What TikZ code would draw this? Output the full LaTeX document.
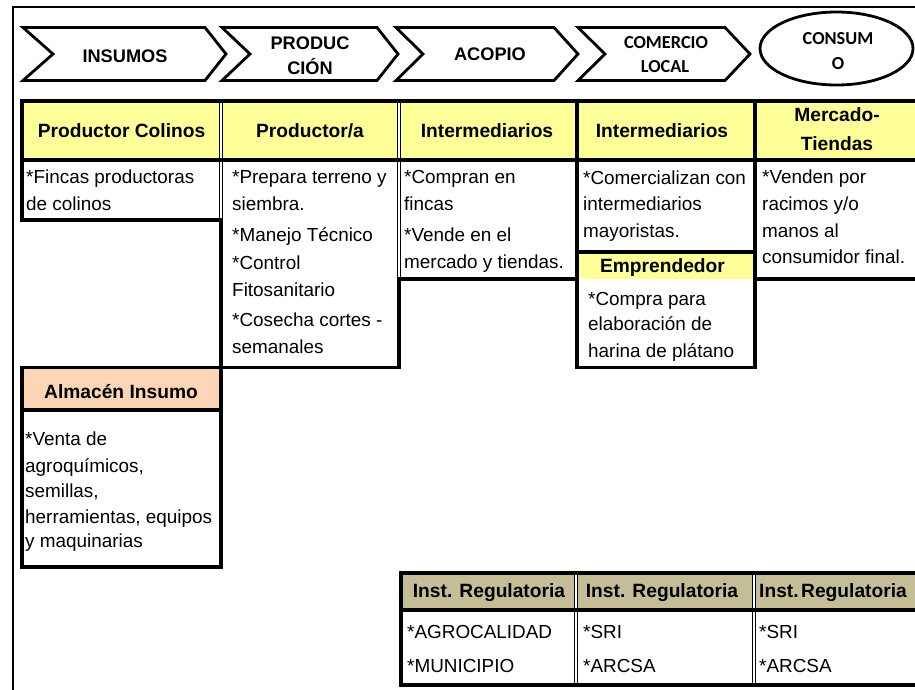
\documentclass[tikz,border=0pt]{standalone}
\usepackage{fontspec}
\setmainfont{Liberation Sans}
\newfontfamily\calfont{Carlito}
\definecolor{hy}{HTML}{FFFF99}
\definecolor{hp}{HTML}{FBD5B5}
\definecolor{ht}{HTML}{C4BD97}
\tikzset{
  bord/.style={line width=3.3pt, draw=black},
  chev/.style={draw=black, line width=2.8pt, line join=miter},
  sepblack/.style={line width=4.8pt, draw=black},
  sepwhite/.style={line width=1.5pt, draw=white},
  btx/.style={anchor=base west, inner sep=0pt, font=\fontsize{18.9}{22}\selectfont},
  htx/.style={anchor=base, inner sep=0pt, font=\bfseries\fontsize{19.2}{23}\selectfont},
  hwtx/.style={anchor=base west, inner sep=0pt, font=\bfseries\fontsize{19.2}{23}\selectfont},
  ctx/.style={anchor=base, inner sep=0pt, font=\bfseries\fontsize{18.2}{22}\selectfont},
  ktx/.style={anchor=base, inner sep=0pt, font=\calfont\bfseries\fontsize{18.3}{22}\selectfont}
}
\begin{document}
\begin{tikzpicture}[x=1pt,y=-1pt]
\useasboundingbox (0,0) rectangle (915,689);
\clip (0,0) rectangle (915,689);
\fill[white] (0,0) rectangle (915,689);

% outer frame
\draw[line width=1.8pt] (13.3,700) -- (13.3,7.3) -- (930,7.3);

% chevrons
\draw[chev] (23,27.5) -- (205,27.5) -- (226,54) -- (205,80.5) -- (23,80.5) -- (53,54) -- cycle;
\draw[chev] (222,27.5) -- (377,27.5) -- (398,54) -- (377,80.5) -- (222,80.5) -- (250,54) -- cycle;
\draw[chev] (396,27.5) -- (554,27.5) -- (578,54) -- (554,80.5) -- (396,80.5) -- (423,54) -- cycle;
\draw[chev] (578,27.5) -- (725,27.5) -- (750,54) -- (725,80.5) -- (578,80.5) -- (605,54) -- cycle;
\draw[chev] (836.5,48.5) ellipse [x radius=76.5pt, y radius=36.5pt];

\node[ctx] (t1) at (125,62.5) {INSUMOS};
\node[ctx] (t2a) at (310,49.3) {PRODUC};
\node[ctx] (t2b) at (310,74) {CIÓN};
\node[ctx] (t3) at (490,60) {ACOPIO};
\node[ktx] (t4a) at (666,48.3) {COMERCIO};
\node[ktx] (t4b) at (665,72.7) {LOCAL};
\node[ktx] (t5a) at (838,44) {CONSUM};
\node[ktx] (t5b) at (838,69.3) {O};

% fills
\fill[hy] (22,101) rectangle (930,160);
\fill[hy] (577,252) rectangle (755,279);
\fill[hp] (22,367.5) rectangle (221,410);
\fill[ht] (401,573) rectangle (930,610);

% main table borders
\draw[bord] (22,101) rectangle (930,160);
\draw[bord] (577,101) -- (577,160) (755,101) -- (755,160);
\draw[bord] (22,160) rectangle (221,220);
\draw[bord] (221,160) rectangle (399,367.5);
\draw[bord] (399,160) rectangle (577,279);
\draw[bord] (577,160) rectangle (755,367.5);
\draw[bord] (577,252) -- (755,252);
\draw[bord] (755,160) rectangle (930,279);
% almacen
\draw[bord] (22,367.5) rectangle (221,567);
\draw[bord] (22,410) -- (221,410);
% regulatory
\draw[bord] (401,573) rectangle (930,685);
\draw[bord] (401,610) -- (930,610);

% double separators
\draw[sepblack] (221,101) -- (221,220);
\draw[sepblack] (399,101) -- (399,279);
\draw[sepblack] (576,573) -- (576,685);
\draw[sepblack] (754,573) -- (754,685);
\draw[sepwhite] (221,103) -- (221,158.3) (221,161.7) -- (221,218.3);
\draw[sepwhite] (399,103) -- (399,158.3) (399,161.7) -- (399,277.3);
\draw[sepwhite] (576,574.7) -- (576,608.3) (576,611.7) -- (576,683.3);
\draw[sepwhite] (754,574.7) -- (754,608.3) (754,611.7) -- (754,683.3);

% header texts
\node[htx] (h1) at (121.5,137) {Productor Colinos};
\node[htx] (h2) at (310,137) {Productor/a};
\node[htx] (h3) at (487,137) {Intermediarios};
\node[htx] (h4) at (662,137) {Intermediarios};
\node[htx] (h5a) at (837,121.7) {Mercado-};
\node[htx] (h5b) at (837,150) {Tiendas};
\node[htx] (h6) at (662.5,272) {Emprendedor};
\node[htx] (h7) at (121,398) {Almacén Insumo};
\node[htx] (r1) at (489,597) {Inst. Regulatoria};
\node[htx] (r2) at (662,597) {Inst. Regulatoria};
\node[hwtx] (r3) at (759,597) {Inst.\hspace{2.5pt}Regulatoria};

% body col1
\node[btx] (a1) at (26,183) {*Fincas productoras};
\node[btx] (a2) at (26,210) {de colinos};
% col2
\node[btx] (b1) at (232,183) {*Prepara terreno y};
\node[btx] (b2) at (232,210) {siembra.};
\node[btx] (b3) at (232,241) {*Manejo Técnico};
\node[btx] (b4) at (232,269) {*Control};
\node[btx] (b5) at (232,296) {Fitosanitario};
\node[btx] (b6) at (232,326) {*Cosecha cortes -};
\node[btx] (b7) at (232,353) {semanales};
% col3
\node[btx] (c1) at (404,183) {*Compran en};
\node[btx] (c2) at (404,210) {fincas};
\node[btx] (c3) at (404,241) {*Vende en el};
\node[btx] (c4) at (404,268) {mercado y tiendas.};
% col4
\node[btx] (d1) at (583,184) {*Comercializan con};
\node[btx] (d2) at (583,210) {intermediarios};
\node[btx] (d3) at (583,237) {mayoristas.};
\node[btx] (d4) at (588,305) {*Compra para};
\node[btx] (d5) at (588,330) {elaboración de};
\node[btx] (d6) at (588,357) {harina de plátano};
% col5
\node[btx] (e1) at (762,183) {*Venden por};
\node[btx] (e2) at (762,210) {racimos y/o};
\node[btx] (e3) at (762,237) {manos al};
\node[btx] (e4) at (762,263) {consumidor final.};
% almacen body
\node[btx] (f1) at (25,445) {*Venta de};
\node[btx] (f2) at (25,472) {agroquímicos,};
\node[btx] (f3) at (25,497) {semillas,};
\node[btx] (f4) at (25,523) {herramientas, equipos};
\node[btx] (f5) at (25,547) {y maquinarias};
% regulatory body
\node[btx] (g1) at (407,638) {*AGROCALIDAD};
\node[btx] (g2) at (407,672) {*MUNICIPIO};
\node[btx] (g3) at (583,638) {*SRI};
\node[btx] (g4) at (583,672) {*ARCSA};
\node[btx] (g5) at (759,638) {*SRI};
\node[btx] (g6) at (759,672) {*ARCSA};
\end{tikzpicture}
\end{document}
